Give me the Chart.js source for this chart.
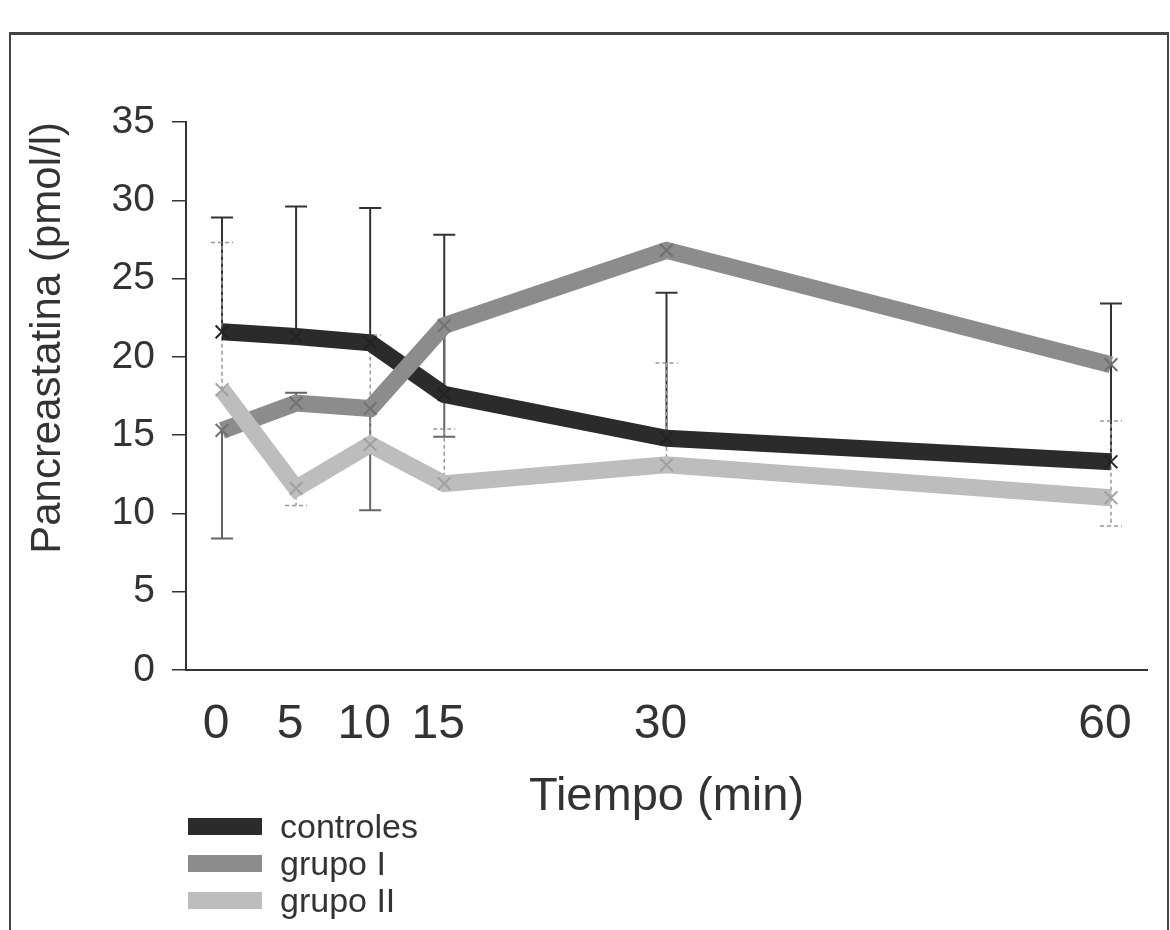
<!DOCTYPE html>
<html>
<head>
<meta charset="utf-8">
<script src="https://cdn.jsdelivr.net/npm/chart.js@4.4.1/dist/chart.umd.min.js"></script>
<style>
body { margin: 0; background: #fff; }
#wrap { position: relative; width: 1170px; height: 930px; overflow: hidden; font-family: "Liberation Sans", Arial, sans-serif; color: #333; }
#frame { position: absolute; left: 9px; top: 32px; width: 1156px; height: 960px; border: 2px solid #444; border-top-width: 3px; }
#myChart { position: absolute; left: 0; top: 0; }
.sw { position: absolute; left: 188px; width: 74px; height: 17px; }
.lt { position: absolute; left: 280px; font-size: 34px; line-height: 34px; }
</style>
</head>
<body>
<div id="wrap">
	<div id="frame"></div>
	<canvas id="myChart" width="1170" height="930"></canvas>
	<div class="sw" style="top:818px;background:#2b2b2b"></div>
	<div class="lt" style="top:809px">controles</div>
	<div class="sw" style="top:855px;background:#8c8c8c"></div>
	<div class="lt" style="top:846px">grupo I</div>
	<div class="sw" style="top:892px;background:#bdbdbd"></div>
	<div class="lt" style="top:883px">grupo II</div>
</div>
<script>
// tiempos (min)
const times = [0, 5, 10, 15, 30, 60];
const xTicks = [0, 5, 10, 15, 30, 60];

// medias (pmol/l)
const controles = [21.6, 21.3, 20.9, 17.6, 14.8, 13.3];
const grupoI = [15.3, 17.05, 16.7, 22.0, 26.8, 19.5];
const grupoII = [17.9, 11.6, 14.4, 11.9, 13.1, 11.0];

// extremos de las barras de error (null = no hay)
const controlesHigh = [28.9, 29.6, 29.5, 27.8, 24.1, 23.4];
const controlesLow = [null, null, null, null, null, null];
const grupoIHigh = [null, 17.7, null, null, null, null];
const grupoILow = [8.4, null, 10.2, 14.9, null, null];
const grupoIIHigh = [27.3, null, 21.4, 15.4, 19.6, 15.9];
const grupoIILow = [null, 10.5, null, null, null, 9.2];

const pts = arr => times.map((t, i) => ({x: t, y: arr[i]}));

const errorBars = {
	id: 'errorBars',
	beforeDatasetsDraw(chart) {
		const ctx = chart.ctx;
		const x = chart.scales.x, y = chart.scales.y;
		chart.data.datasets.forEach(ds => {
			ctx.save();
			ctx.strokeStyle = ds.errColor;
			ctx.lineWidth = ds.errWidth;
			ctx.setLineDash(ds.errDash);
			times.forEach((t, i) => {
				[ds.errLow[i], ds.errHigh[i]].forEach(v => {
					if (v == null) return;
					const px = x.getPixelForValue(t);
					const p0 = y.getPixelForValue(ds.data[i].y);
					const p1 = y.getPixelForValue(v);
					ctx.beginPath();
					ctx.moveTo(px, p0);
					ctx.lineTo(px, p1);
					ctx.moveTo(px - 11, p1);
					ctx.lineTo(px + 11, p1);
					ctx.stroke();
				});
			});
			ctx.restore();
		});
	}
};

const ctx = document.getElementById('myChart').getContext('2d');
const myChart = new Chart(ctx, {
	type: 'line',
	data: {
		datasets: [{
			label: 'controles',
			data: pts(controles),
			errHigh: controlesHigh, errLow: controlesLow,
			errColor: '#333', errWidth: 2, errDash: [],
			borderColor: '#2b2b2b',
			pointBorderColor: '#222',
			order: 3
		}, {
			label: 'grupo I',
			data: pts(grupoI),
			errHigh: grupoIHigh, errLow: grupoILow,
			errColor: '#666', errWidth: 2, errDash: [],
			borderColor: '#8c8c8c',
			pointBorderColor: '#707070',
			order: 2
		}, {
			label: 'grupo II',
			data: pts(grupoII),
			errHigh: grupoIIHigh, errLow: grupoIILow,
			errColor: '#999', errWidth: 1.5, errDash: [4, 3],
			borderColor: '#bdbdbd',
			pointBorderColor: '#a0a0a0',
			order: 1
		}]
	},
	options: {
		responsive: false,
		animation: false,
		layout: {
			padding: {top: 122, left: 0, right: 23, bottom: 90}
		},
		elements: {
			line: {borderWidth: 17, tension: 0, fill: false},
			point: {pointStyle: 'crossRot', radius: 9, borderWidth: 2, backgroundColor: 'transparent'}
		},
		plugins: {
			legend: {display: false},
			tooltip: {enabled: false}
		},
		scales: {
			x: {
				type: 'linear',
				min: -2.43,
				max: 62.43,
				afterBuildTicks: s => { s.ticks = xTicks.map(v => ({value: v})); },
				afterFit: s => { s.height = 170; },
				grid: {display: false, drawTicks: false},
				border: {display: true, color: '#333', width: 2},
				ticks: {
					color: '#333',
					padding: 26,
					labelOffset: -6,
					font: {family: '"Liberation Sans", Arial, sans-serif', size: 48},
					callback: v => v
				},
				title: {
					display: true,
					text: 'Tiempo (min)',
					color: '#333',
					font: {family: '"Liberation Sans", Arial, sans-serif', size: 47},
					padding: {top: 0, bottom: 15}
				}
			},
			y: {
				min: 0,
				max: 35,
				afterFit: s => { s.width = 186; },
				grid: {drawOnChartArea: false, drawTicks: true, tickLength: 14, color: '#333', lineWidth: 1.5},
				border: {display: true, color: '#333', width: 2},
				ticks: {
					stepSize: 5,
					color: '#333',
					padding: 17,
					font: {family: '"Liberation Sans", Arial, sans-serif', size: 39}
				},
				title: {
					display: true,
					text: 'Pancreastatina (pmol/l)',
					align: 'end',
					color: '#333',
					font: {family: '"Liberation Sans", Arial, sans-serif', size: 42},
					padding: {top: 23, bottom: 0}
				}
			}
		}
	},
	plugins: [errorBars]
});
</script>
</body>
</html>
